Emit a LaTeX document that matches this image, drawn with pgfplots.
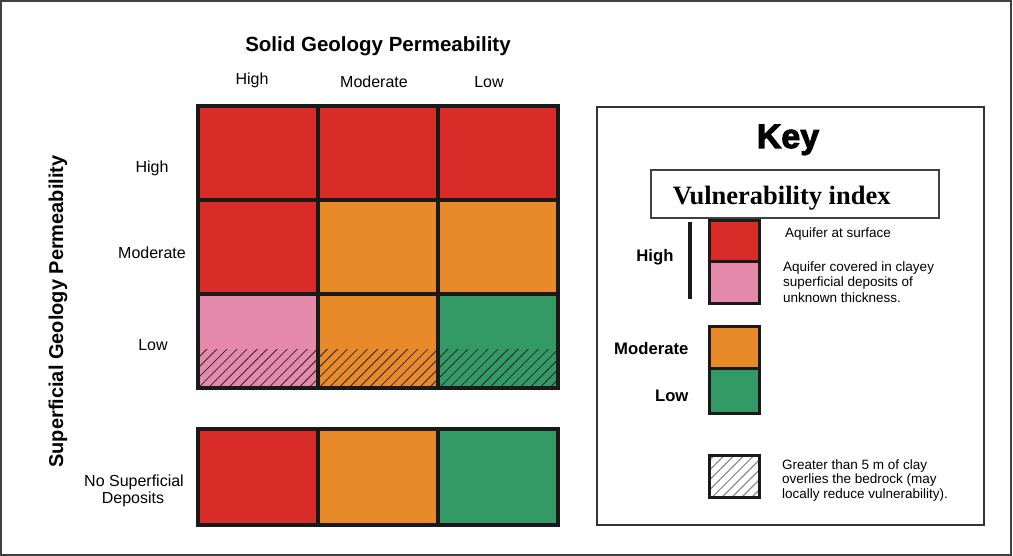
\documentclass[border=0pt]{standalone}
\usepackage{pgfplots}
\pgfplotsset{compat=1.18}
\usepackage{fontspec}
\setmainfont{Liberation Sans}
\newfontfamily\serifb{Liberation Serif}
\newfontfamily\keyfont[BoldFont={Liberation Sans Bold}, BoldFeatures={FakeBold=3}]{Liberation Sans}
\usetikzlibrary{patterns.meta}
\definecolor{cred}{HTML}{D92B27}
\definecolor{cpink}{HTML}{E589AA}
\definecolor{corange}{HTML}{E98A2A}
\definecolor{cgreen}{HTML}{339A66}
\definecolor{cblack}{HTML}{1A1A1A}
\newcommand{\fs}[1]{\fontsize{#1}{#1}\selectfont}
% cell: x0 y0 x1 y1 colour
\newcommand{\cell}[5]{\addplot[fill=#5, draw=cblack, line width=4pt, line join=miter] coordinates {(#1,#2) (#3,#2) (#3,#4) (#1,#4)} -- cycle;}
\newcommand{\swatch}[5]{\addplot[fill=#5, draw=cblack, line width=3pt, line join=miter] coordinates {(#1,#2) (#3,#2) (#3,#4) (#1,#4)} -- cycle;}
\begin{document}
\begin{tikzpicture}
\begin{axis}[scale only axis, width=1013pt, height=556pt,
  xmin=0, xmax=1013, ymin=0, ymax=556, y dir=reverse,
  hide axis, clip=false]
\path (axis cs:0,0) rectangle (axis cs:1013,556);
\draw[line width=2pt, draw=black!75] (axis cs:1,1) rectangle (axis cs:1011,555);
% ---- matrix: rows High, Moderate, Low ----
\cell{198}{106}{318}{200}{cred}
\cell{318}{106}{438}{200}{cred}
\cell{438}{106}{558}{200}{cred}
\cell{198}{200}{318}{294}{cred}
\cell{318}{200}{438}{294}{corange}
\cell{438}{200}{558}{294}{corange}
\cell{198}{294}{318}{388}{cpink}
\cell{318}{294}{438}{388}{corange}
\cell{438}{294}{558}{388}{cgreen}
% clay > 5 m hatching
\addplot[draw=none, pattern={Lines[angle=45, distance=7.1pt, line width=0.8pt]}, pattern color=black!85]
  coordinates {(198,350) (558,350) (558,388) (198,388)} -- cycle;
\addplot[draw=cblack, line width=4pt, line join=miter] coordinates {(198,294) (318,294) (318,388) (198,388)} -- cycle;
\addplot[draw=cblack, line width=4pt, line join=miter] coordinates {(318,294) (438,294) (438,388) (318,388)} -- cycle;
\addplot[draw=cblack, line width=4pt, line join=miter] coordinates {(438,294) (558,294) (558,388) (438,388)} -- cycle;
% ---- no superficial deposits ----
\cell{198}{429}{318}{525}{cred}
\cell{318}{429}{438}{525}{corange}
\cell{438}{429}{558}{525}{cgreen}
% ---- labels ----
\node[anchor=base, font=\bfseries\fs{20.5}] at (axis cs:378,51.7) {Solid Geology Permeability};
\node[anchor=base, font=\fs{16}] at (axis cs:252,85) {High};
\node[anchor=base, font=\fs{16}] at (axis cs:374,87.7) {Moderate};
\node[anchor=base, font=\fs{16}] at (axis cs:489,87.7) {Low};
\node[anchor=base, font=\fs{16}] at (axis cs:152,172.7) {High};
\node[anchor=base, font=\fs{16}] at (axis cs:152,259) {Moderate};
\node[anchor=base, font=\fs{16}] at (axis cs:153,350) {Low};
\node[anchor=base, font=\fs{16}] at (axis cs:134,486) {No Superficial};
\node[anchor=base, font=\fs{16}] at (axis cs:133,503) {Deposits};
\node[anchor=base, rotate=90, font=\bfseries\fs{20}] at (axis cs:63,311.5) {Superficial Geology Permeability};
% ---- key ----
\draw[line width=1.8pt, draw=black!80] (axis cs:597,107) rectangle (axis cs:984,525);
\node[anchor=base, font=\keyfont\bfseries\fs{34}] at (axis cs:788,148) {Key};
\draw[line width=2pt, draw=black!75] (axis cs:651,170) rectangle (axis cs:939,218);
\node[anchor=base, font=\serifb\bfseries\fs{26.5}] at (axis cs:781.7,205) {Vulnerability index};
\draw[line width=4.5pt, draw=cblack] (axis cs:690,222) -- (axis cs:690,299);
\swatch{709}{221}{759}{262}{cred}
\swatch{709}{262}{759}{304}{cpink}
\swatch{709}{327}{759}{368}{corange}
\swatch{709}{368}{759}{413}{cgreen}
\addplot[fill=white, draw=none, pattern={Lines[angle=45, distance=7pt, line width=1.2pt]}, pattern color=black!45]
  coordinates {(709,455) (759,455) (759,497) (709,497)} -- cycle;
\addplot[draw=cblack, line width=3pt, line join=miter] coordinates {(709,455) (759,455) (759,497) (709,497)} -- cycle;
\node[anchor=base east, font=\bfseries\fs{16.7}] at (axis cs:677,261.7) {High};
\node[anchor=base east, font=\bfseries\fs{16.7}] at (axis cs:692,355) {Moderate};
\node[anchor=base east, font=\bfseries\fs{16.7}] at (axis cs:692,401) {Low};
\node[anchor=base west, font=\fs{13.5}, inner xsep=0pt] at (axis cs:785,238) {Aquifer at surface};
\node[anchor=base west, font=\fs{13.5}, inner xsep=0pt] at (axis cs:783,271.7) {Aquifer covered in clayey};
\node[anchor=base west, font=\fs{13.5}, inner xsep=0pt] at (axis cs:783,286.7) {superficial deposits of};
\node[anchor=base west, font=\fs{13.5}, inner xsep=0pt] at (axis cs:783,302.3) {unknown thickness.};
\node[anchor=base west, font=\fs{13.5}, inner xsep=0pt] at (axis cs:782,469) {Greater than 5 m of clay};
\node[anchor=base west, font=\fs{13.5}, inner xsep=0pt] at (axis cs:782,483.3) {overlies the bedrock (may};
\node[anchor=base west, font=\fs{13.5}, inner xsep=0pt] at (axis cs:782,498.3) {locally reduce vulnerability).};
\end{axis}
\end{tikzpicture}
\end{document}
